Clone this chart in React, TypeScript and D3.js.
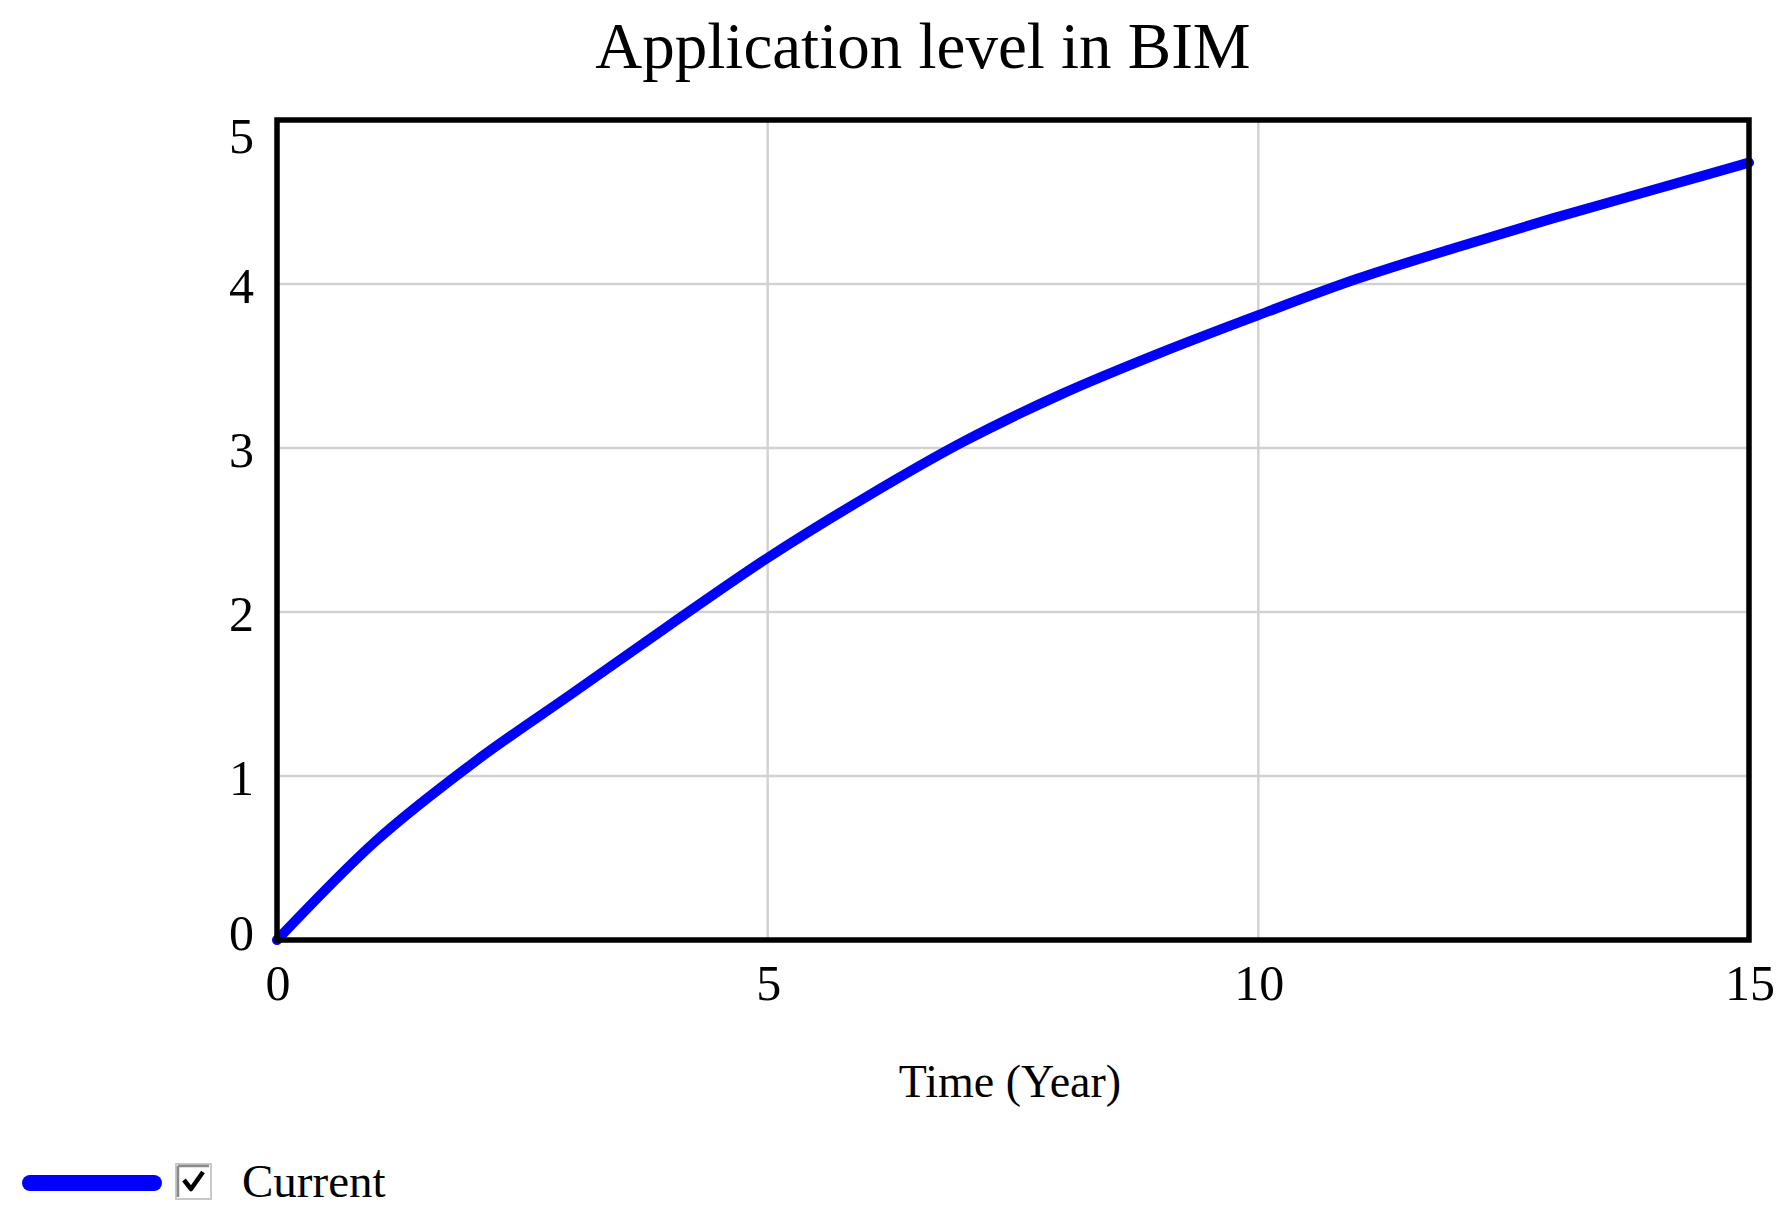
import React from "react";
import * as d3 from "d3";

// simulated BIM application level per year
const years = [0, 1, 2, 3, 4, 5, 6, 7, 8, 9, 10, 11, 12, 13, 14, 15];
const current = [0, 0.6, 1.08, 1.5, 1.92, 2.33, 2.7, 3.04, 3.33, 3.58, 3.81, 4.03, 4.22, 4.4, 4.57, 4.74];
const xTicks = [0, 5, 10, 15];
const yTicks = [0, 1, 2, 3, 4, 5];
const seriesName = "Current";

const W = 1785;
const H = 1224;
const left = 277;
const right = 1749;
const top = 120;
const bottom = 940;
const font = "'Liberation Serif', 'Times New Roman', serif";

const App = () => {
  const x = d3.scaleLinear().domain([0, 15]).range([left, right]);
  const y = d3.scaleLinear().domain([0, 5]).range([bottom, top]);

  const line = d3
    .line<number>()
    .x((_, i) => x(years[i]))
    .y((d) => y(d))
    .curve(d3.curveMonotoneX);

  return (
    <div style={{ position: "absolute", left: 0, top: 0 }}>
      <svg width={W} height={H} style={{ display: "block", background: "white" }}>
        {/* title */}
        <text x={923} y={68} textAnchor="middle" fontFamily={font} fontSize={65} fill="#000">
          Application level in BIM
        </text>

        {/* grid */}
        {yTicks
          .filter((t) => t > 0 && t < 5)
          .map((t) => (
            <line key={"gy" + t} x1={left} x2={right} y1={y(t)} y2={y(t)} stroke="#d2d2d2" strokeWidth={2.5} />
          ))}
        {xTicks
          .filter((t) => t > 0 && t < 15)
          .map((t) => (
            <line key={"gx" + t} x1={x(t)} x2={x(t)} y1={top} y2={bottom} stroke="#d2d2d2" strokeWidth={2.5} />
          ))}

        {/* series */}
        <path d={line(current) || ""} fill="none" stroke="#0000ff" strokeWidth={10} strokeLinejoin="round" strokeLinecap="round" />

        {/* frame */}
        <rect x={left} y={top} width={right - left} height={bottom - top} fill="none" stroke="#000" strokeWidth={5.5} />

        {/* y tick labels */}
        {yTicks.map((t) => (
          <text
            key={"yl" + t}
            x={254}
            y={Math.max(top + 33, Math.min(bottom + 10, y(t) + 19))}
            textAnchor="end"
            fontFamily={font}
            fontSize={50}
            fill="#000"
          >
            {t}
          </text>
        ))}

        {/* x tick labels */}
        {xTicks.map((t) => (
          <text key={"xl" + t} x={x(t) + 1} y={1000} textAnchor="middle" fontFamily={font} fontSize={50} fill="#000">
            {t}
          </text>
        ))}

        <text x={1010} y={1097} textAnchor="middle" fontFamily={font} fontSize={46} fill="#000">
          Time (Year)
        </text>

        {/* legend */}
        <line x1={30} x2={154} y1={1183} y2={1183} stroke="#0000ff" strokeWidth={16} strokeLinecap="round" />
        <rect x={176} y={1164} width={35} height={35} fill="#fff" stroke="#c8c8c8" strokeWidth={2} />
        <path d="M178,1166 H209 M178,1166 V1197" stroke="#8a8a8a" strokeWidth={2.5} fill="none" />
        <path d="M184,1180 L191,1189 L203,1172" stroke="#000" strokeWidth={4.5} fill="none" strokeLinejoin="round" />
        <text x={242} y={1197} fontFamily={font} fontSize={47} fill="#000">
          {seriesName}
        </text>
      </svg>
    </div>
  );
};

export default App;
